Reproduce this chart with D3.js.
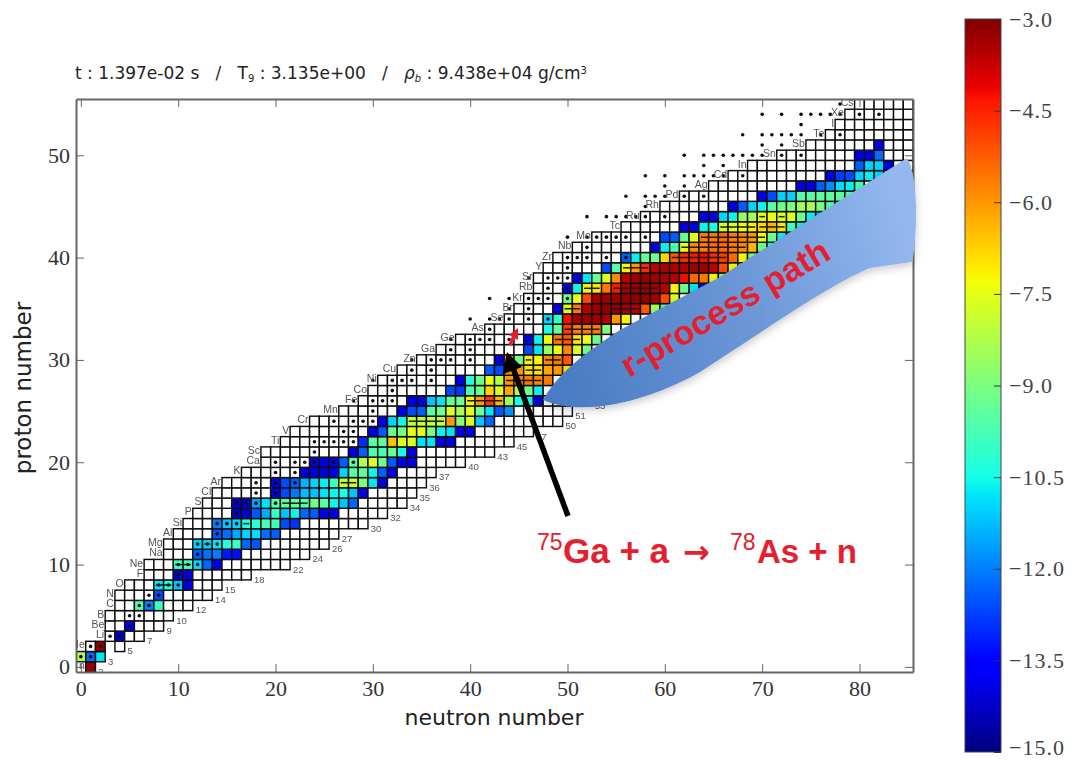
<!DOCTYPE html>
<html>
<head>
<meta charset="utf-8">
<script src="https://d3js.org/d3.v7.min.js"></script>
<style>
body { margin: 0; background: #fff; }
svg { display: block; }
.ax text { font-family: "Liberation Serif", serif; font-size: 22px; fill: #333; }
.ax .domain { stroke: #666; stroke-width: 2; }
.ax .tick line { stroke: #666; stroke-width: 1; }
.cb text { font-family: "Liberation Serif", serif; font-size: 22px; letter-spacing: 1px; fill: #444; }
.cb .domain { display: none; }
.cb .tick line { stroke: #333; }
</style>
</head>
<body>
<svg id="chart" width="1073" height="760"></svg>
<script>
// element symbol for each proton number, index = Z
var elements = ["n","H","He","Li","Be","B","C","N","O","F","Ne","Na","Mg","Al","Si","P","S","Cl","Ar","K","Ca","Sc","Ti","V","Cr","Mn","Fe","Co","Ni","Cu","Zn","Ga","Ge","As","Se","Br","Kr","Rb","Sr","Y","Zr","Nb","Mo","Tc","Ru","Rh","Pd","Ag","Cd","In","Sn","Sb","Te","I","Xe","Cs"];
// first and last neutron number of the network, index = Z
var rowStart = [1,0,1,3,3,3,4,4,5,7,7,9,9,10,11,12,13,14,15,17,19,19,21,22,24,27,29,30,31,33,35,37,39,42,44,45,46,47,47,48,49,51,53,56,58,60,62,65,67,69,72,75,77,78,79,80];
var rowEnd = [1,2,4,6,8,9,11,13,14,17,21,23,25,26,29,31,33,34,35,36,39,42,44,46,49,50,52,53,55,57,59,60,62,63,65,66,68,70,71,73,74,76,77,79,80,82,83,85,85,85,85,85,85,85,85,85];
var gapCells = [[2,3],[4,4]];

// log10 abundance: [Z, first N, values...]
var abundance = [
  [0,1,[-3.2]],
  [1,0,[-8.2,-12.2,-10.8]],
  [2,2,[-3.2]],
  [3,4,[-14.2]],
  [4,5,[-13.8]],
  [6,6,[-9.6,-12,-10]],
  [7,8,[-12.6]],
  [8,8,[-10.8,-10.4,-11.2,-14]],
  [9,10,[-14.2,-14]],
  [10,10,[-10,-9.8,-11,-12.3,-13.9]],
  [11,12,[-12.4,-12.2,-12,-13.2,-13.3]],
  [12,12,[-11,-11,-10.8,-10.3,-10,-12.3,-12.5]],
  [13,14,[-12.5,-12.2,-11.5,-11,-10.9,-12.2,-12.4]],
  [14,14,[-12,-11.2,-11,-10.3,-10.2,-9.8,-9.8,-12.6,-12.9]],
  [15,16,[-14.2,-14.2,-12.5,-11.5,-10,-11.2,-10.6,-12.3,-12.4,-13.9,-14]],
  [16,16,[-14.2,-14.2,-11.6,-10.8,-9.6,-9.4,-9.4,-9.6,-9.2,-9.5,-10.6,-11.2,-12.3]],
  [17,20,[-13.9,-12.6,-12.1,-11.3,-11.2,-10.8,-10.6,-10.5,-11.2,-13.8]],
  [18,20,[-14,-12.6,-12.4,-11.4,-11,-10.7,-9.9,-8,-7.8,-9,-10.8,-14]],
  [19,23,[-14,-14,-14,-14,-11,-9.5,-9.5,-10.6,-12.4,-14]],
  [20,24,[-14,-14,-14,-12.4,-9.5,-8.2,-7.6,-9.3,-12.4,-14,-14]],
  [21,28,[-14,-12.4,-9.7,-9.8,-9.3,-10.5,-14]],
  [22,29,[-13,-9.5,-9.4,-6.5,-7.6,-7.6,-10.8,-10.8,-14,-14]],
  [23,30,[-14,-12.5,-9.3,-9.1,-7.5,-7.5,-9,-10.6,-10.8,-14,-14]],
  [24,31,[-14,-11,-10.6,-8,-8,-8,-8,-6,-8.8,-7.6,-11.2,-12.3]],
  [25,33,[-14,-12.6,-12.4,-9.6,-9.2,-7.6,-8.4,-7.5,-9.2,-10.8,-12.5,-11.8]],
  [26,34,[-14,-14,-11.2,-10.8,-9.4,-9.2,-7.2,-6,-4.8,-6.4,-8.5,-10.5,-10.6,-14]],
  [27,38,[-12.6,-12.8,-9.7,-9.2,-6.8,-7.6,-6.2,-8.2,-9.2,-10.7]],
  [28,39,[-14,-10.3,-9.2,-7.4,-8.2,-6,-5.6,-5.6,-5.8,-5.6]],
  [29,42,[-12.4,-12.6,-5.8,-6,-7,-7,-6.2,-6,-7]],
  [30,43,[-14,-6,-9.2,-7.2,-7.2,-5.8,-5.6,-5.2]],
  [31,46,[-12.6,-10.8,-8.6,-7.4,-5.8,-7.6,-9]],
  [32,46,[-14,-10.6,-7.4,-5.6,-5.2,-7,-7.4,-9.2]],
  [33,48,[-10.5,-9.4,-4.8,-5.6,-5.6,-5.6,-9]],
  [34,48,[-11,-10,-4.2,-3.4,-3.3,-3.3,-3.5,-6,-7.2]],
  [35,49,[-14,-7.6,-5.6,-3.6,-3.3,-3.2,-3.2,-3.4,-3.6,-5.2,-8.4,-9.6]],
  [36,50,[-9.2,-7.4,-5,-3.4,-3.3,-3.3,-3.2,-3.2,-3.2,-3.4,-5,-7.6]],
  [37,50,[-14,-10.6,-7.2,-7,-5.6,-4.4,-3.4,-3.3,-3.3,-3.4,-3.6,-7.2,-9.2,-10.8,-14]],
  [38,51,[-14,-10.8,-9.2,-7.6,-5.8,-3.6,-3.3,-3.2,-3.3,-3.4,-3.6,-4.2,-5.4,-5.6,-7.2,-9.2,-10.6]],
  [39,54,[-12.6,-9.6,-7.2,-6,-4.6,-3.6,-3.4,-3.5,-3.5,-3.3,-3.3,-3.6,-5,-7.2,-9.2]],
  [40,56,[-12.4,-10.7,-9.4,-9.2,-6.8,-5.2,-4.6,-4.4,-4.2,-4.6,-4.8,-5.4,-7.2,-9.2,-10.6]],
  [41,59,[-14,-10.7,-9.8,-7.4,-5.8,-5.6,-5.4,-5.4,-5.6,-5.8,-6.4,-9.2,-10.5,-14]],
  [42,60,[-12.6,-12.4,-9.4,-7.6,-5.6,-5.6,-5.4,-5.6,-5.8,-6,-7.4,-9.2,-10.7,-12.6]],
  [43,62,[-14,-14,-10.6,-10.4,-7.8,-7.6,-7.4,-7.2,-6.8,-6.4,-7,-9.8,-10.6,-13.8]],
  [44,64,[-14,-14,-11,-10.6,-8.6,-8.4,-7.4,-7.4,-7.6,-7.6,-9.2,-10.7,-11.4]],
  [45,67,[-14,-12.4,-11,-10.6,-9.6,-9.2,-9,-8.4,-8.4,-9,-9.6,-10.8]],
  [46,70,[-14,-12.6,-11,-11,-9.6,-9.5,-9.4,-9.4,-9.4,-9.6]],
  [47,74,[-14,-14,-12.4,-11.8,-10.9,-10.7,-9.8]],
  [48,77,[-14,-12.8,-12.6,-11,-10.7,-11]],
  [49,80,[-12.4,-11,-11,-14]],
  [50,80,[-14,-14,-12.2]],
  [51,82,[-14]]
];

// stable isotopes: [Z, [N...]]
var stable = [
  [1,[0,1]],[2,[1,2]],[3,[3,4]],[4,[5]],[5,[5,6]],[6,[6,7]],[7,[7,8]],[8,[8,9,10]],[9,[10]],[10,[10,11,12]],
  [11,[12]],[12,[12,13,14]],[13,[14]],[14,[14,15,16]],[15,[16]],[16,[16,17,18,20]],[17,[18,20]],[18,[18,20,22]],
  [19,[20,22]],[20,[20,22,23,24,26,28]],[21,[24]],[22,[24,25,26,27,28]],[23,[27,28]],[24,[26,28,29,30]],[25,[30]],
  [26,[28,30,31,32]],[27,[32]],[28,[30,32,33,34,36]],[29,[34,36]],[30,[34,36,37,38,40]],[31,[38,40]],
  [32,[38,40,41,42,44]],[33,[42]],[34,[40,42,43,44,46,48]],[35,[44,46]],[36,[42,44,46,47,48,50]],[37,[48,50]],
  [38,[46,48,49,50]],[39,[50]],[40,[50,51,52,54,56]],[41,[52]],[42,[50,52,53,54,55,56,58]],
  [44,[52,54,55,56,57,58,60]],[45,[58]],[46,[56,58,59,60,62,64]],[47,[60,62]],[48,[58,60,62,63,64,65,66,68]],
  [49,[64,66]],[50,[62,64,65,66,67,68,69,70,72,74]],[51,[70,72]],[52,[68,70,71,72,73,74,76,78]],[53,[74]],
  [54,[70,72,74,75,76,77,78,80,82]],[55,[78]]
];

// dark bars running across some cells: [Z, first N, last N]
var bars = [
  [8,8,9],[10,10,11],[12,13,13],[14,17,17],[16,21,23],[18,27,28],[24,34,37],[26,40,43],[28,44,47],
  [30,46,46],[30,48,49],[29,46,47],[32,49,51],[33,50,53],[35,50,51],[35,55,57],[37,52,53],[37,55,59],
  [39,56,58],[40,61,66],[41,62,68],[42,64,70],[43,66,69],[43,70,72],[44,70,70],[44,72,72]
];

var xTicks = [0,10,20,30,40,50,60,70,80];
var yTicks = [0,10,20,30,40,50];
var cbTicks = [-3,-4.5,-6,-7.5,-9,-10.5,-12,-13.5,-15];
var jetStops = [0,0.11,0.125,0.34,0.35,0.375,0.64,0.65,0.66,0.89,0.91,1];
var jetColors = ["#00007f","#0000ff","#0000ff","#00dbff","#00e5f8","#14ffe8","#f0ff08","#f7f600","#ffec00","#ff1300","#e80000","#7f0000"];

var svg = d3.select("#chart");

var x = d3.scaleLinear().domain([-0.5,85.5]).range([76,913]);
var y = d3.scaleLinear().domain([-0.5,55.5]).range([672,99]);
var jet = d3.scaleLinear().domain(jetStops).range(jetColors);
function colorOf(v) { return jet((v + 15) / 12); }

var cellW = x(1) - x(0);
var cellH = y(0) - y(1);

var defs = svg.append("defs");
defs.append("clipPath").attr("id","axesClip").append("rect")
    .attr("x",76).attr("y",99).attr("width",837).attr("height",573);
defs.append("filter").attr("id","soft")
    .attr("x","-5%").attr("y","-5%").attr("width","110%").attr("height","110%")
    .append("feGaussianBlur").attr("stdDeviation",0.6);
var shadow = defs.append("filter").attr("id","blobShadow")
    .attr("x","-10%").attr("y","-10%").attr("width","120%").attr("height","125%");
shadow.append("feDropShadow").attr("dx",0).attr("dy",3).attr("stdDeviation",4)
    .attr("flood-color","#000").attr("flood-opacity",0.22);
var blobFill = defs.append("linearGradient").attr("id","blobFill")
    .attr("x1","0%").attr("y1","60%").attr("x2","100%").attr("y2","40%");
blobFill.append("stop").attr("offset","0%").attr("stop-color","#4a7cc4");
blobFill.append("stop").attr("offset","55%").attr("stop-color","#6d98d8");
blobFill.append("stop").attr("offset","100%").attr("stop-color","#93b8ee");
var cbFill = defs.append("linearGradient").attr("id","cbFill")
    .attr("x1","0%").attr("y1","100%").attr("x2","0%").attr("y2","0%");
jetStops.forEach(function(s, i) {
    cbFill.append("stop").attr("offset",(s * 100) + "%").attr("stop-color",jetColors[i]);
});

// build the cell list from the small arrays
var abundanceMap = new Map();
abundance.forEach(function(r) {
    r[2].forEach(function(v, i) { abundanceMap.set(r[0] + ":" + (r[1] + i), v); });
});
var cells = [];
rowStart.forEach(function(first, z) {
    for (var n = first; n <= rowEnd[z]; n++) {
        var isGap = gapCells.some(function(g) { return g[0] === z && g[1] === n; });
        if (!isGap) cells.push({z: z, n: n, v: abundanceMap.get(z + ":" + n)});
    }
});
var dots = [];
stable.forEach(function(r) {
    r[1].forEach(function(n) { dots.push({z: r[0], n: n}); });
});

var plot = svg.append("g").attr("clip-path","url(#axesClip)").append("g").attr("filter","url(#soft)");

plot.selectAll("rect.cell").data(cells).enter().append("rect")
    .attr("class","cell")
    .attr("x", function(d) { return x(d.n) - cellW / 2; })
    .attr("y", function(d) { return y(d.z) - cellH / 2; })
    .attr("width",cellW)
    .attr("height",cellH)
    .attr("fill", function(d) { return d.v === undefined ? "#fff" : colorOf(d.v); })
    .attr("stroke","#111")
    .attr("stroke-width",1.45);

plot.selectAll("line.bar").data(bars).enter().append("line")
    .attr("class","bar")
    .attr("x1", function(d) { return x(d[1]) - cellW * 0.3; })
    .attr("x2", function(d) { return x(d[2]) + cellW * 0.3; })
    .attr("y1", function(d) { return y(d[0]); })
    .attr("y2", function(d) { return y(d[0]); })
    .attr("stroke","#1a1a1a")
    .attr("stroke-width",1.5);

plot.selectAll("circle.stable").data(dots).enter().append("circle")
    .attr("class","stable")
    .attr("cx", function(d) { return x(d.n); })
    .attr("cy", function(d) { return y(d.z); })
    .attr("r",1.8)
    .attr("fill","#111");

// element names to the left of each row, H would fall outside the axes
var elementRows = elements.map(function(name, z) { return {name: name, z: z}; })
    .filter(function(d) { return rowStart[d.z] > 0; });
plot.selectAll("text.el").data(elementRows).enter().append("text")
    .attr("class","el")
    .attr("x", function(d) { return x(rowStart[d.z] - 0.6); })
    .attr("y", function(d) { return y(d.z) + 2; })
    .attr("text-anchor","end")
    .attr("font-family","Liberation Sans, sans-serif")
    .attr("font-size",10.5)
    .attr("fill","#555")
    .text(function(d) { return d.name; });

// last neutron number + 1 to the right of each row
plot.selectAll("text.end").data(rowEnd).enter().append("text")
    .attr("class","end")
    .attr("x", function(d) { return x(d + 1) - 2; })
    .attr("y", function(d, z) { return y(z) + 8; })
    .attr("font-family","Liberation Sans, sans-serif")
    .attr("font-size",9.5)
    .attr("fill","#555")
    .text(function(d) { return d + 1; });

// axes, ticks on all four sides
var axes = svg.append("g").attr("class","ax");
axes.append("g").attr("transform","translate(0,672)")
    .call(d3.axisBottom(x).tickValues(xTicks).tickSize(-8).tickPadding(8).tickSizeOuter(0));
axes.append("g").attr("transform","translate(0,99)")
    .call(d3.axisTop(x).tickValues(xTicks).tickSize(-8).tickFormat("").tickSizeOuter(0));
axes.append("g").attr("transform","translate(76,0)")
    .call(d3.axisLeft(y).tickValues(yTicks).tickSize(-8).tickPadding(6).tickSizeOuter(0));
axes.append("g").attr("transform","translate(913,0)")
    .call(d3.axisRight(y).tickValues(yTicks).tickSize(-8).tickFormat("").tickSizeOuter(0));

svg.append("text")
    .attr("x",494).attr("y",725)
    .attr("text-anchor","middle")
    .attr("font-family","DejaVu Sans, sans-serif")
    .attr("font-size",22)
    .attr("fill","#222")
    .text("neutron number");
svg.append("text")
    .attr("transform","translate(31,388) rotate(-90)")
    .attr("text-anchor","middle")
    .attr("font-family","DejaVu Sans, sans-serif")
    .attr("font-size",23)
    .attr("fill","#222")
    .text("proton number");

// title line
var title = svg.append("text")
    .attr("x",75).attr("y",79)
    .attr("font-family","DejaVu Sans, sans-serif")
    .attr("font-size",17)
    .attr("fill","#222")
    .style("white-space","pre");
title.append("tspan").text("t : 1.397e-02 s   /   T");
title.append("tspan").attr("font-size",10).attr("dy",3).text("9");
title.append("tspan").attr("dy",-3).text(" : 3.135e+00   /   ");
title.append("tspan").attr("font-style","italic").text("ρ");
title.append("tspan").attr("font-size",10).attr("dy",3).attr("font-style","italic").text("b");
title.append("tspan").attr("dy",-3).text(" : 9.438e+04 g/cm");
title.append("tspan").attr("font-size",10).attr("dy",-5).text("3");

// colorbar
var cbScale = d3.scaleLinear().domain([-3,-15]).range([19,752]);
svg.append("rect")
    .attr("x",965).attr("y",19).attr("width",36).attr("height",733)
    .attr("fill","url(#cbFill)")
    .attr("stroke","#444").attr("stroke-width",1);
var cbAxis = svg.append("g").attr("class","cb").attr("transform","translate(1001,0)")
    .call(d3.axisRight(cbScale).tickValues(cbTicks).tickSize(-7).tickPadding(8).tickSizeOuter(0)
        .tickFormat(function(d) { return "\u2212" + Math.abs(d).toFixed(1); }));
// keep the lowest label inside the window
cbAxis.selectAll(".tick:last-of-type text").attr("y",-5).attr("dy",".32em");

// blue annotation shape on top of the plot
svg.append("path")
    .attr("d","M543,400 C560,370 590,350 620,330 L720,277 L820,213 L907,158 Q917,175 916,223 Q915,250 912,262 Q890,265 870,268 C830,285 780,320 700,372 C660,395 590,420 543,400 Z")
    .attr("fill","url(#blobFill)")
    .attr("filter","url(#blobShadow)");
svg.append("text")
    .attr("transform","translate(731,318) rotate(-30.5)")
    .attr("text-anchor","middle")
    .attr("font-family","Liberation Sans, sans-serif")
    .attr("font-weight","bold")
    .attr("font-size",34)
    .attr("fill","#e5202e")
    .text("r-process path");

// black and red arrows
svg.append("line")
    .attr("x1",568).attr("y1",516).attr("x2",513).attr("y2",368)
    .attr("stroke","#000").attr("stroke-width",5.5);
svg.append("path").attr("d","M507,352 L503,374 L522,367 Z").attr("fill","#000");
svg.append("line")
    .attr("x1",510).attr("y1",345).attr("x2",514).attr("y2",336)
    .attr("stroke","#e5202e").attr("stroke-width",3.5);
svg.append("path").attr("d","M518,328 L509,335 L518,340 Z").attr("fill","#e5202e");

// reaction label
var reaction = svg.append("text")
    .attr("y",563)
    .attr("font-family","Liberation Sans, sans-serif")
    .attr("font-weight","bold")
    .attr("font-size",35)
    .attr("fill","#e5202e");
reaction.append("tspan").attr("x",537).attr("font-size",23).attr("font-weight","normal").attr("dy",-13).text("75");
reaction.append("tspan").attr("x",563).attr("dy",13).text("Ga + a");
reaction.append("tspan").attr("x",683).attr("font-family","DejaVu Sans, sans-serif").attr("font-size",32).text("→");
reaction.append("tspan").attr("x",730).attr("font-size",23).attr("font-weight","normal").attr("dy",-13).text("78");
reaction.append("tspan").attr("x",757).attr("dy",13).attr("font-size",33).text("As + n");
</script>
</body>
</html>
